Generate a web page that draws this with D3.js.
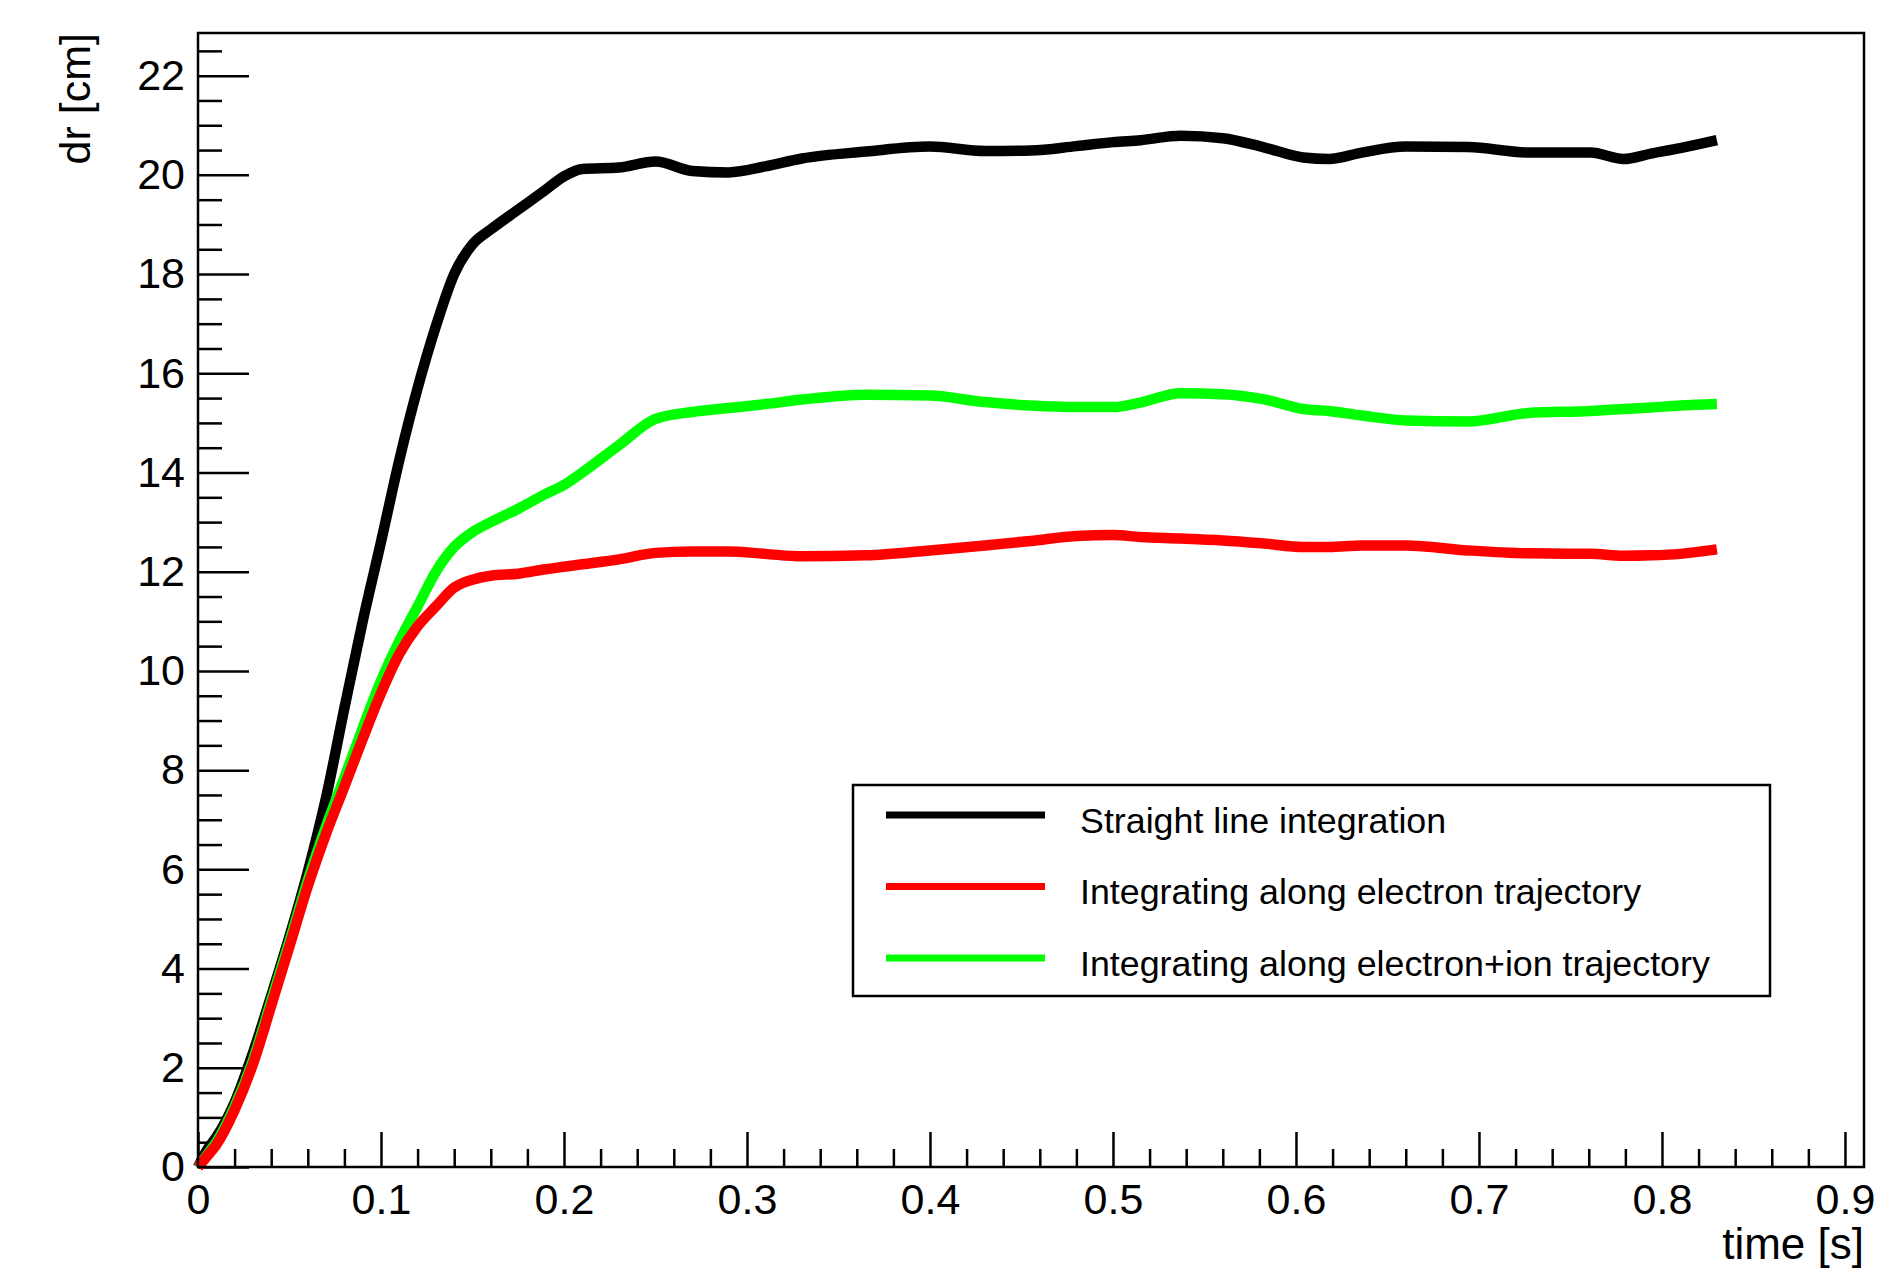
<!DOCTYPE html>
<html>
<head>
<meta charset="utf-8">
<script src="https://cdn.jsdelivr.net/npm/d3@7"></script>
<style>
  html, body { margin: 0; padding: 0; background: #fff; }
  svg { display: block; }
  text { font-family: "Liberation Sans", Arial, Helvetica, sans-serif; fill: #000; }
</style>
</head>
<body>
<svg id="chart" width="1881" height="1269"></svg>
<script>
// ---- data ----
const times = [0, 0.005, 0.01, 0.02, 0.03, 0.04, 0.05, 0.06, 0.07, 0.08, 0.09, 0.10, 0.11, 0.12, 0.13, 0.14, 0.15, 0.16, 0.175, 0.19, 0.2, 0.21, 0.23, 0.25, 0.27, 0.29, 0.31, 0.33, 0.365, 0.4, 0.43, 0.455, 0.48, 0.5, 0.515, 0.537, 0.56, 0.582, 0.604, 0.618, 0.636, 0.66, 0.694, 0.727, 0.761, 0.779, 0.794, 0.81, 0.83];

const straightLine = [0, 0.35, 0.6, 1.3, 2.3, 3.45, 4.65, 5.95, 7.45, 9.25, 11.0, 12.6, 14.25, 15.7, 16.95, 18.0, 18.6, 18.9, 19.3, 19.7, 19.97, 20.12, 20.15, 20.27, 20.08, 20.05, 20.17, 20.33, 20.47, 20.57, 20.48, 20.49, 20.58, 20.66, 20.7, 20.79, 20.74, 20.56, 20.35, 20.32, 20.45, 20.57, 20.56, 20.45, 20.45, 20.32, 20.43, 20.54, 20.70];

const electronTraj = [0, 0.22, 0.45, 1.15, 2.07, 3.25, 4.45, 5.66, 6.72, 7.67, 8.63, 9.55, 10.34, 10.9, 11.3, 11.68, 11.84, 11.92, 11.96, 12.05, 12.1, 12.15, 12.25, 12.38, 12.41, 12.41, 12.36, 12.31, 12.33, 12.43, 12.53, 12.62, 12.72, 12.74, 12.7, 12.67, 12.63, 12.57, 12.5, 12.5, 12.53, 12.53, 12.43, 12.37, 12.36, 12.32, 12.33, 12.36, 12.45];

const electronIonTraj = [0, 0.25, 0.5, 1.22, 2.15, 3.35, 4.55, 5.78, 6.87, 7.85, 8.85, 9.8, 10.6, 11.3, 12.0, 12.5, 12.8, 13.0, 13.27, 13.57, 13.75, 14.0, 14.55, 15.08, 15.22, 15.3, 15.38, 15.47, 15.57, 15.55, 15.42, 15.35, 15.32, 15.32, 15.41, 15.6, 15.58, 15.48, 15.28, 15.24, 15.15, 15.05, 15.03, 15.2, 15.24, 15.28, 15.31, 15.35, 15.38];

const seriesNames = ["Straight line integration", "Integrating along electron trajectory", "Integrating along electron+ion trajectory"];
const seriesColors = ["#000000", "#ff0000", "#00ff00"];

const xMajorTicks = [0, 0.1, 0.2, 0.3, 0.4, 0.5, 0.6, 0.7, 0.8, 0.9];
const yMajorTicks = [0, 2, 4, 6, 8, 10, 12, 14, 16, 18, 20, 22];
const xTitle = "time [s]";
const yTitle = "dr [cm]";

// ---- layout ----
const svg = d3.select("#chart");
const L = 198, R = 1864, T = 33, B = 1167;
const x = d3.scaleLinear().domain([0, 0.9104]).range([L, R]);
const y = d3.scaleLinear().domain([0, 22.86]).range([B, T]);

svg.append("rect").attr("width", 1881).attr("height", 1269).attr("fill", "#fff");

// minor tick values
const xMinor = d3.range(0, 46).map(i => i * 0.02).filter(v => v <= 0.9104 && Math.abs(v * 10 - Math.round(v * 10)) > 1e-6);
const yMinor = d3.range(0, 46).map(i => i * 0.5).filter(v => v <= 22.86 && v % 2 !== 0);

// y axis
const yAxis = svg.append("g").attr("transform", `translate(${L},0)`)
  .call(d3.axisLeft(y).tickValues(yMajorTicks).tickSize(-51).tickPadding(13).tickFormat(d3.format("d")));
const yAxisMinor = svg.append("g").attr("transform", `translate(${L},0)`)
  .call(d3.axisLeft(y).tickValues(yMinor).tickSize(-24).tickFormat(""));

// x axis
const xAxis = svg.append("g").attr("transform", `translate(0,${B})`)
  .call(d3.axisBottom(x).tickValues(xMajorTicks).tickSize(-35).tickPadding(16)
    .tickFormat(d => d === 0 ? "0" : d3.format(".1f")(d)));
const xAxisMinor = svg.append("g").attr("transform", `translate(0,${B})`)
  .call(d3.axisBottom(x).tickValues(xMinor).tickSize(-18).tickFormat(""));

[yAxis, yAxisMinor, xAxis, xAxisMinor].forEach(g => {
  g.select(".domain").remove();
  g.selectAll(".tick line").attr("stroke", "#000").attr("stroke-width", 2.5);
  g.selectAll(".tick text").attr("font-size", 43).attr("font-family", "Liberation Sans, Arial, sans-serif").attr("fill", "#000");
});

// series
const line = d3.line().x(d => x(d[0])).y(d => y(d[1])).curve(d3.curveMonotoneX);
const seriesData = [straightLine, electronIonTraj, electronTraj];
const seriesCol = [seriesColors[0], seriesColors[2], seriesColors[1]];
seriesData.forEach((vals, i) => {
  svg.append("path")
    .datum(times.map((t, k) => [t, vals[k]]))
    .attr("fill", "none")
    .attr("stroke", seriesCol[i])
    .attr("stroke-width", 10.5)
    .attr("stroke-linejoin", "round")
    .attr("d", line);
});

// frame
svg.append("rect").attr("x", L).attr("y", T).attr("width", R - L).attr("height", B - T)
  .attr("fill", "none").attr("stroke", "#000").attr("stroke-width", 2.5);

// axis titles
svg.append("text").attr("x", R).attr("y", 1259).attr("text-anchor", "end").attr("font-size", 44).text(xTitle);
svg.append("text").attr("transform", `translate(90,${T}) rotate(-90)`).attr("text-anchor", "end").attr("font-size", 43).text(yTitle);

// legend
const lg = svg.append("g");
lg.append("rect").attr("x", 853).attr("y", 785).attr("width", 917).attr("height", 211)
  .attr("fill", "#fff").attr("stroke", "#000").attr("stroke-width", 2.5);
seriesNames.forEach((name, i) => {
  const cy = 815 + i * 71.5;
  lg.append("line").attr("x1", 886).attr("x2", 1045).attr("y1", cy).attr("y2", cy)
    .attr("stroke", seriesColors[i]).attr("stroke-width", 7);
  lg.append("text").attr("x", 1080).attr("y", cy + 17.5).attr("font-size", 35.8).text(name);
});
</script>
</body>
</html>
